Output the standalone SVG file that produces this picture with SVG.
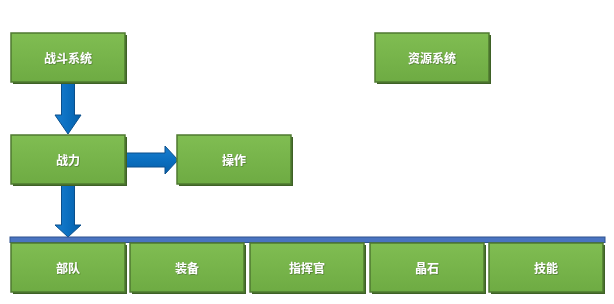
<svg xmlns="http://www.w3.org/2000/svg" width="614" height="304" viewBox="0 0 614 304">
<style>
.box{fill:url(#g);stroke:#4f7a30;stroke-width:1.5}
.sh{fill:#3e6126}
.t{font-family:"Noto Sans CJK SC","Noto Sans",sans-serif;font-size:12px;font-weight:bold;fill:#ffffff;text-anchor:middle;dominant-baseline:central}
.arr{fill:url(#b);stroke:#0a4f8c;stroke-width:1}
</style>
<defs>
<linearGradient id="g" x1="0" y1="0" x2="0" y2="1">
<stop offset="0" stop-color="#80bd52"/>
<stop offset="1" stop-color="#6eab43"/>
</linearGradient>
<linearGradient id="b" x1="0" y1="0" x2="1" y2="0">
<stop offset="0" stop-color="#1a7fd0"/>
<stop offset="0.5" stop-color="#0b6fc0"/>
<stop offset="1" stop-color="#055fa8"/>
</linearGradient>
<linearGradient id="bh" x1="0" y1="0" x2="0" y2="1">
<stop offset="0" stop-color="#1a7fd0"/>
<stop offset="0.5" stop-color="#0b6fc0"/>
<stop offset="1" stop-color="#055fa8"/>
</linearGradient>
<filter id="ts"><feDropShadow dx="0.6" dy="0.6" stdDeviation="0.4" flood-color="#2d4a1a" flood-opacity="0.7"/></filter>
</defs>
<g id="connectors">
<path class="arr" d="M61.5,82 L74.5,82 L74.5,115 L81,115 L68,134 L55,115 L61.5,115 Z"/>
<path class="arr" style="fill:url(#bh)" d="M125,153 L165,153 L165,146 L178,160 L165,174 L165,167 L125,167 Z"/>
<path class="arr" d="M61.5,184 L74.5,184 L74.5,225 L81,225 L68,237 L55,225 L61.5,225 Z"/>
<rect x="10" y="237" width="595" height="5.5" fill="#4a74c0" stroke="#2f528f" stroke-width="1"/>
</g>
<g id="n1"><rect class="sh" x="13" y="35" width="114" height="49"/><rect class="box" x="11" y="33" width="114" height="49"/><text class="t" filter="url(#ts)" x="68" y="57.5">战斗系统</text></g>
<g id="n2"><rect class="sh" x="377" y="35" width="114" height="49"/><rect class="box" x="375" y="33" width="114" height="49"/><text class="t" filter="url(#ts)" x="432" y="57.5">资源系统</text></g>
<g id="n3"><rect class="sh" x="13" y="137" width="114" height="49"/><rect class="box" x="11" y="135" width="114" height="49"/><text class="t" filter="url(#ts)" x="68" y="159.5">战力</text></g>
<g id="n4"><rect class="sh" x="179" y="137" width="114" height="49"/><rect class="box" x="177" y="135" width="114" height="49"/><text class="t" filter="url(#ts)" x="234" y="159.5">操作</text></g>
<g id="n5"><rect class="sh" x="13" y="245" width="114" height="49"/><rect class="box" x="11" y="243" width="114" height="49"/><text class="t" filter="url(#ts)" x="68" y="267.5">部队</text></g>
<g id="n6"><rect class="sh" x="132" y="245" width="114" height="49"/><rect class="box" x="130" y="243" width="114" height="49"/><text class="t" filter="url(#ts)" x="187" y="267.5">装备</text></g>
<g id="n7"><rect class="sh" x="252" y="245" width="114" height="49"/><rect class="box" x="250" y="243" width="114" height="49"/><text class="t" filter="url(#ts)" x="307" y="267.5">指挥官</text></g>
<g id="n8"><rect class="sh" x="372" y="245" width="114" height="49"/><rect class="box" x="370" y="243" width="114" height="49"/><text class="t" filter="url(#ts)" x="427" y="267.5">晶石</text></g>
<g id="n9"><rect class="sh" x="491" y="245" width="114" height="49"/><rect class="box" x="489" y="243" width="114" height="49"/><text class="t" filter="url(#ts)" x="546" y="267.5">技能</text></g>
</svg>
